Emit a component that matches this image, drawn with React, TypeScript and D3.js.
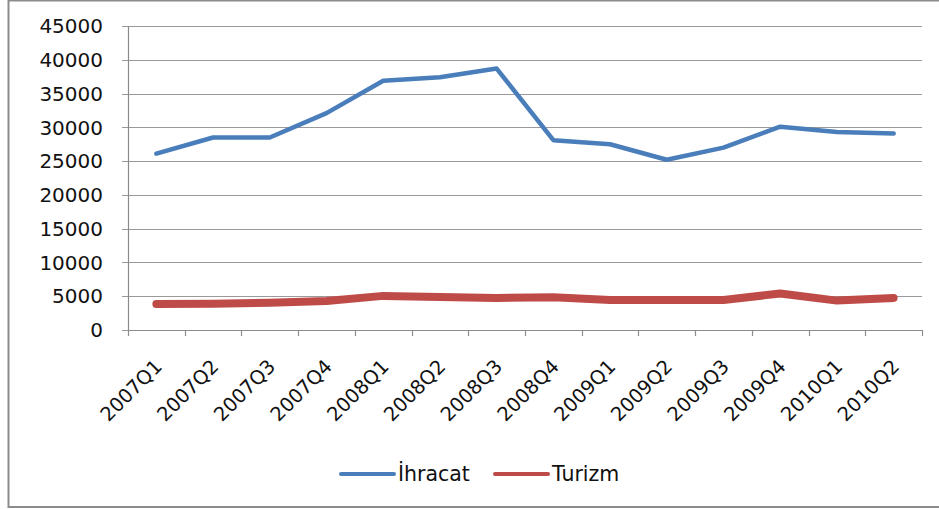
import React, { useEffect, useRef } from "react";
import * as d3 from "d3";

const quarters = [
  "2007Q1", "2007Q2", "2007Q3", "2007Q4",
  "2008Q1", "2008Q2", "2008Q3", "2008Q4",
  "2009Q1", "2009Q2", "2009Q3", "2009Q4",
  "2010Q1", "2010Q2",
];
const ihracat = [26100, 28500, 28500, 32100, 36900, 37400, 38700, 28100, 27500, 25200, 27000, 30100, 29300, 29100];
const turizm = [3850, 3900, 4050, 4300, 5050, 4900, 4750, 4850, 4450, 4450, 4450, 5400, 4350, 4750];
const yTicks = [0, 5000, 10000, 15000, 20000, 25000, 30000, 35000, 40000, 45000];
const seriesNames = ["İhracat", "Turizm"];
const seriesColors = ["#4A7EBB", "#BE4B48"];

const App = () => {
  const ref = useRef<SVGSVGElement>(null);
  const width = 939;
  const height = 509;

  useEffect(() => {
    const svg = d3.select(ref.current);
    svg.selectAll("*").remove();

    const margin = { top: 26, right: 17, bottom: 179, left: 128 };
    const font = "DejaVu Sans, sans-serif";

    // outer frame (left, top, bottom only are visible)
    svg.append("path")
      .attr("d", `M${width},0.5 H8.5 V${height - 2} H${width}`)
      .attr("fill", "none")
      .attr("stroke", "#8c8c8c")
      .attr("stroke-width", 2);

    const x = d3.scaleBand()
      .domain(quarters)
      .range([margin.left, width - margin.right]);

    const y = d3.scaleLinear()
      .domain([0, 45000])
      .range([height - margin.bottom, margin.top]);

    // gridlines
    svg.append("g")
      .selectAll("line")
      .data(yTicks)
      .join("line")
      .attr("x1", margin.left - 6)
      .attr("x2", width - margin.right)
      .attr("y1", (d) => Math.round(y(d)) + 0.5)
      .attr("y2", (d) => Math.round(y(d)) + 0.5)
      .attr("stroke", "#9a9a9a")
      .attr("stroke-width", 1.2);

    // y labels
    svg.append("g")
      .selectAll("text")
      .data(yTicks)
      .join("text")
      .attr("x", 103)
      .attr("y", (d) => y(d))
      .attr("dy", "0.36em")
      .attr("text-anchor", "end")
      .style("font-family", font)
      .style("font-size", "20px")
      .style("fill", "#111")
      .text((d) => String(d));

    // y axis line
    svg.append("line")
      .attr("x1", margin.left + 0.5)
      .attr("x2", margin.left + 0.5)
      .attr("y1", margin.top)
      .attr("y2", y(0))
      .attr("stroke", "#8c8c8c")
      .attr("stroke-width", 1.2);

    // x axis with ticks at category boundaries
    const x0 = y(0);
    svg.append("line")
      .attr("x1", margin.left)
      .attr("x2", width - margin.right)
      .attr("y1", x0 + 0.5)
      .attr("y2", x0 + 0.5)
      .attr("stroke", "#8c8c8c")
      .attr("stroke-width", 1.2);
    const bounds = quarters.map((q) => x(q)!).concat([width - margin.right]);
    svg.append("g")
      .selectAll("line")
      .data(bounds)
      .join("line")
      .attr("x1", (d) => Math.round(d) + 0.5)
      .attr("x2", (d) => Math.round(d) + 0.5)
      .attr("y1", x0)
      .attr("y2", x0 + 6)
      .attr("stroke", "#8c8c8c")
      .attr("stroke-width", 1.2);

    // x labels rotated
    svg.append("g")
      .selectAll("text")
      .data(quarters)
      .join("text")
      .attr("transform", (d) => `translate(${x(d)! + x.bandwidth() / 2 + 2},${x0 + 33}) rotate(-45)`)
      .attr("text-anchor", "end")
      .attr("dy", "0.35em")
      .style("font-family", font)
      .style("font-size", "19.5px")
      .style("fill", "#111")
      .text((d) => d);

    const line = d3.line<number>()
      .x((_, i) => x(quarters[i])! + x.bandwidth() / 2)
      .y((d) => y(d));

    // lines
    const widths = [4.5, 8];
    [ihracat, turizm].forEach((vals, i) => {
      svg.append("path")
        .datum(vals)
        .attr("d", line)
        .attr("fill", "none")
        .attr("stroke", seriesColors[i])
        .attr("stroke-width", widths[i])
        .attr("stroke-linejoin", "round")
        .attr("stroke-linecap", "round");
    });

    // legend
    const legendX = [341, 495];
    seriesNames.forEach((name, i) => {
      const g = svg.append("g").attr("transform", `translate(${legendX[i]},474)`);
      g.append("line")
        .attr("x1", 0)
        .attr("x2", 53)
        .attr("stroke", seriesColors[i])
        .attr("stroke-width", 4)
        .attr("stroke-linecap", "round");
      g.append("text")
        .attr("x", 57)
        .attr("dy", "0.36em")
        .style("font-family", font)
        .style("font-size", "20.5px")
        .style("fill", "#111")
        .text(name);
    });
  }, []);

  return (
    <svg
      ref={ref}
      width={width}
      height={height}
      style={{ position: "absolute", left: 0, top: 0, background: "#fff" }}
    ></svg>
  );
};

export default App;
